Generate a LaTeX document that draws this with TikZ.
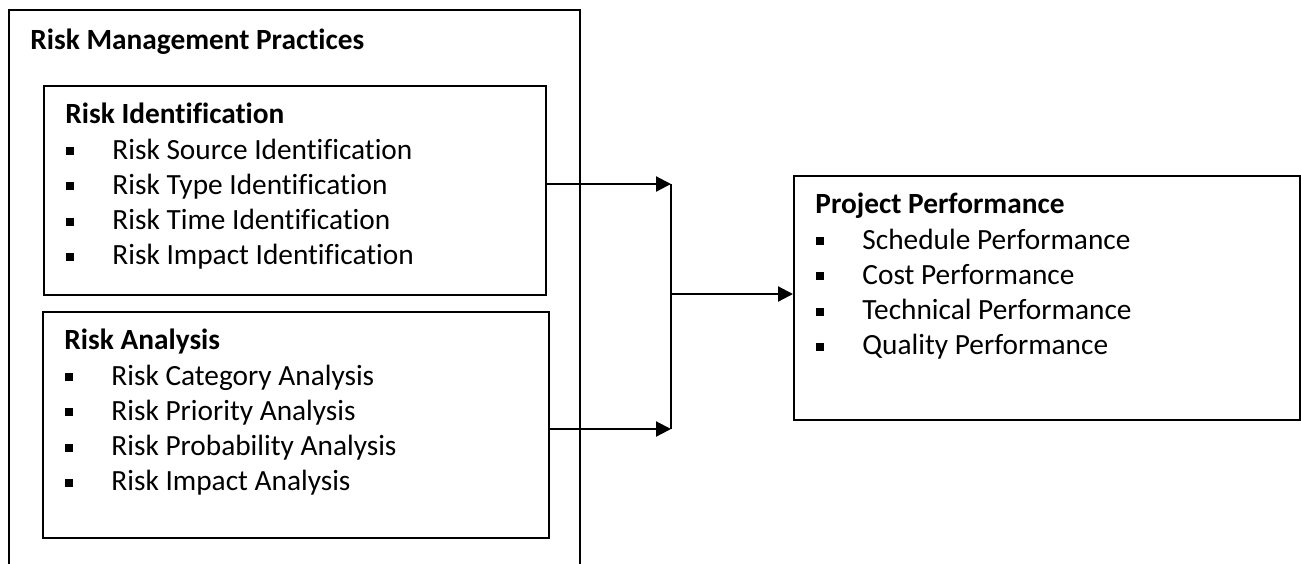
\documentclass[tikz,border=0pt]{standalone}
\usepackage{fontspec}
\setmainfont[Ligatures=CommonOff]{Carlito}
\usetikzlibrary{arrows.meta}

\def\PX{0.4348pt}
\def\RowStep{35.3}
\def\HeadDrop{38}
\def\ItemDrop{74}
\def\BulletX{27}
\def\TextX{69}

\tikzset{
  box/.style={draw, line width=0.75pt, inner sep=0pt, anchor=north west},
  headtext/.style={anchor=base west, inner sep=0pt, font=\fontsize{12.75}{15}\selectfont\bfseries},
  itemtext/.style={anchor=base west, inner sep=0pt, font=\fontsize{12.75}{15}\selectfont},
  link/.style={line width=0.95pt, -{Triangle[length=6.5pt,width=6.5pt]}},
  joinline/.style={line width=0.45pt},
}

\begin{document}
\begin{tikzpicture}[x=\PX,y=-\PX]

% Page background
\useasboundingbox (0,0) rectangle (1301,563);
\fill[white] (0,0) rectangle (1301,563);

% =====================================================
% OUTER FRAME (open at the bottom)
% =====================================================
\draw[line width=0.7pt] (9,570) -- (9,10) -- (580,10) -- (580,570);
\node[headtext] (practices) at (30,49) {Risk Management Practices};

% =====================================================
% RISK IDENTIFICATION
% =====================================================
\node[box, minimum width={502*\PX}, minimum height={209*\PX}] (ident) at (43,85) {};
\node[headtext] (identhead) at (43+22,85+\HeadDrop) {Risk Identification};

\foreach \txt [count=\k] in {Risk Source Identification,Risk Type Identification,Risk Time Identification,Risk Impact Identification} {
    \pgfmathsetmacro{\by}{85+\ItemDrop+(\k-1)*\RowStep}
    \fill (43+\BulletX-4,\by-12) rectangle ++(8,8);
    \node[itemtext] (identitem-\k) at (43+\TextX,\by) {\txt};
}

% =====================================================
% RISK ANALYSIS
% =====================================================
\node[box, minimum width={506*\PX}, minimum height={226*\PX}] (anal) at (42,311) {};
\node[headtext] (analhead) at (42+22,311+\HeadDrop) {Risk Analysis};

\foreach \txt [count=\k] in {Risk Category Analysis,Risk Priority Analysis,Risk Probability Analysis,Risk Impact Analysis} {
    \pgfmathsetmacro{\by}{311+\ItemDrop+(\k-1)*\RowStep}
    \fill (42+\BulletX-4,\by-12) rectangle ++(8,8);
    \node[itemtext] (analitem-\k) at (42+\TextX,\by) {\txt};
}

% =====================================================
% PROJECT PERFORMANCE
% =====================================================
\node[box, minimum width={506*\PX}, minimum height={244*\PX}] (perf) at (793,175) {};
\node[headtext] (perfhead) at (793+22,175+\HeadDrop) {Project Performance};

\foreach \txt [count=\k] in {Schedule Performance,Cost Performance,Technical Performance,Quality Performance} {
    \pgfmathsetmacro{\by}{175+\ItemDrop+(\k-1)*\RowStep}
    \fill (793+\BulletX-4,\by-12) rectangle ++(8,8);
    \node[itemtext] (perfitem-\k) at (793+\TextX,\by) {\txt};
}

% =====================================================
% CONNECTORS
% =====================================================
\coordinate (joinTop) at (671,184);
\coordinate (joinBot) at (671,429);
\coordinate (joinMid) at (672,294);

\draw[link] (ident.east |- joinTop) -- (joinTop);
\draw[link] (anal.east |- joinBot) -- (joinBot);
\draw[joinline] (joinTop) -- (joinBot);
\draw[link] (joinMid) -- (joinMid -| perf.west);

\end{tikzpicture}
\end{document}
